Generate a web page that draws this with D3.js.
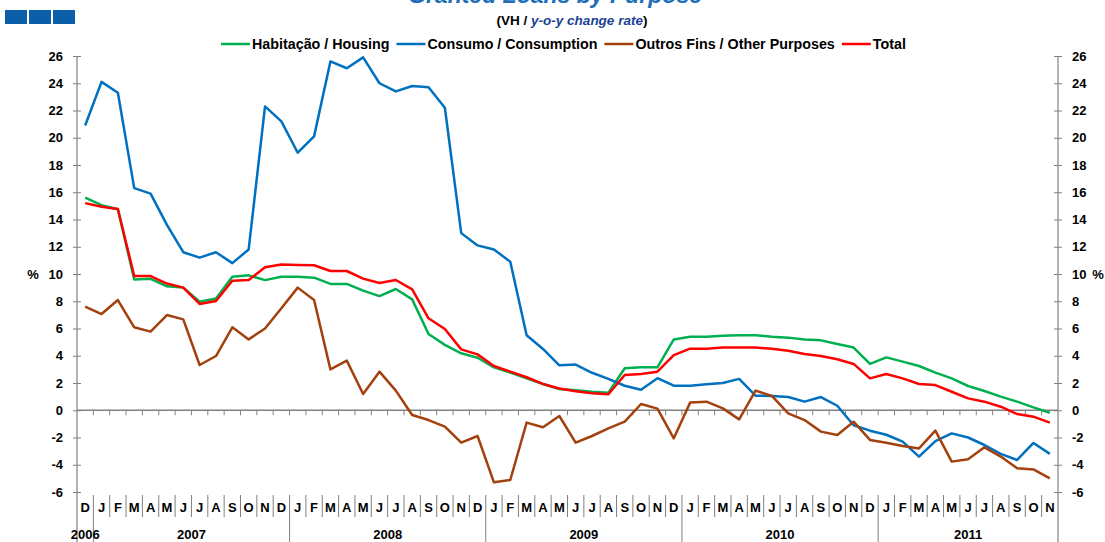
<!DOCTYPE html>
<html>
<head>
<meta charset="utf-8">
<script src="https://cdn.jsdelivr.net/npm/d3@7"></script>
<style>
  body { margin: 0; background: #fff; }
  svg { display: block; font-family: "Liberation Sans", Arial, sans-serif; }
</style>
</head>
<body>
<script>
// month codes, Dec 2006 .. Nov 2011
var months = ["D",
  "J","F","M","A","M","J","J","A","S","O","N","D",
  "J","F","M","A","M","J","J","A","S","O","N","D",
  "J","F","M","A","M","J","J","A","S","O","N","D",
  "J","F","M","A","M","J","J","A","S","O","N","D",
  "J","F","M","A","M","J","J","A","S","O","N"];
var years = ["2006","2007","2008","2009","2010","2011"];
var yearCounts = [1, 12, 12, 12, 12, 11];
var yTicks = [-6,-4,-2,0,2,4,6,8,10,12,14,16,18,20,22,24,26];

var housing = [15.6,15.05,14.75,9.6,9.65,9.1,9.0,7.97,8.2,9.8,9.9,9.55,
  9.8,9.8,9.73,9.27,9.27,8.78,8.38,8.9,8.14,5.6,4.8,4.18,
  3.85,3.15,2.76,2.34,1.93,1.56,1.46,1.36,1.29,3.08,3.15,3.15,
  5.2,5.4,5.4,5.47,5.5,5.5,5.4,5.33,5.2,5.13,4.86,4.6,
  3.4,3.88,3.57,3.25,2.76,2.34,1.78,1.41,1.0,0.63,0.21,-0.18];
var consumption = [20.9,24.1,23.3,16.3,15.9,13.6,11.6,11.2,11.6,10.8,11.8,22.3,
  21.2,18.9,20.1,25.6,25.1,25.9,24.0,23.4,23.8,23.7,22.2,13.0,
  12.1,11.8,10.9,5.5,4.5,3.3,3.35,2.75,2.3,1.8,1.5,2.35,
  1.8,1.8,1.9,2.0,2.3,1.07,1.05,0.97,0.63,0.97,0.33,-1.1,
  -1.5,-1.8,-2.3,-3.4,-2.26,-1.7,-2.0,-2.55,-3.2,-3.65,-2.4,-3.2];
var other = [7.6,7.06,8.09,6.09,5.77,6.99,6.67,3.32,3.98,6.09,5.2,6.0,
  7.48,9.0,8.09,3.0,3.64,1.19,2.83,1.44,-0.35,-0.72,-1.2,-2.38,
  -1.89,-5.29,-5.12,-0.91,-1.25,-0.42,-2.38,-1.89,-1.33,-0.84,0.46,0.12,
  -2.06,0.56,0.63,0.14,-0.67,1.44,1.05,-0.23,-0.72,-1.57,-1.82,-0.84,
  -2.18,-2.38,-2.62,-2.8,-1.5,-3.77,-3.6,-2.72,-3.4,-4.26,-4.34,-5.0];
var total = [15.2,14.94,14.77,9.85,9.85,9.3,9.0,7.8,8.02,9.5,9.56,10.49,
  10.7,10.66,10.64,10.22,10.22,9.66,9.34,9.56,8.87,6.75,5.96,4.47,
  4.1,3.25,2.83,2.42,1.93,1.6,1.39,1.24,1.17,2.59,2.66,2.83,
  4.05,4.52,4.52,4.6,4.6,4.6,4.52,4.37,4.13,3.98,3.74,3.4,
  2.34,2.66,2.34,1.93,1.85,1.36,0.87,0.63,0.26,-0.28,-0.47,-0.91];

var seriesNames = ["Habitação / Housing", "Consumo / Consumption", "Outros Fins / Other Purposes", "Total"];
var seriesColors = ["#00b050", "#0070c0", "#a3410e", "#ff0000"];
var seriesValues = [housing, consumption, other, total];

var width = 1105, height = 542;
var plotLeft = 77, plotRight = 1058, plotTop = 56, plotBottom = 492;

var svg = d3.select("body").append("svg")
  .attr("width", width)
  .attr("height", height);

var x = d3.scaleBand()
  .domain(d3.range(months.length))
  .range([plotLeft, plotRight])
  .padding(0);
var y = d3.scaleLinear()
  .domain([-6, 26])
  .range([plotBottom, plotTop]);

var axisColor = "#808080";

// corner squares
svg.append("g").selectAll("rect")
  .data([0, 1, 2])
  .enter().append("rect")
  .attr("x", function(d) { return 5 + d * 24; })
  .attr("y", 10)
  .attr("width", 22)
  .attr("height", 14)
  .attr("fill", "#0b5ea8");

// title (cut off at top in the original)
svg.append("text")
  .attr("x", 555).attr("y", 3)
  .attr("text-anchor", "middle")
  .attr("font-size", 23).attr("font-weight", "bold").attr("font-style", "italic")
  .attr("fill", "#1f6fb8")
  .text("Granted Loans by Purpose");

var sub = svg.append("text")
  .attr("x", 572).attr("y", 25)
  .attr("text-anchor", "middle")
  .attr("font-size", 13.5).attr("font-weight", "bold");
sub.append("tspan").text("(VH / ");
sub.append("tspan").attr("font-style", "italic").attr("fill", "#1c3f94").text("y-o-y change rate");
sub.append("tspan").text(")");

// legend
var legend = svg.append("g");
var lx = 221;
seriesNames.forEach(function(name, i) {
  legend.append("line")
    .attr("x1", lx).attr("x2", lx + 29)
    .attr("y1", 44).attr("y2", 44)
    .attr("stroke", seriesColors[i]).attr("stroke-width", 2.5);
  var t = legend.append("text")
    .attr("x", lx + 31).attr("y", 49)
    .attr("font-size", 14.3).attr("font-weight", "bold")
    .text(name);
  lx += 31 + t.node().getComputedTextLength() + 7;
});

// y axes
var fmt = function(d) { return String(d); };
var yLeft = svg.append("g")
  .attr("transform", "translate(" + plotLeft + ",0)")
  .call(d3.axisLeft(y).tickValues(yTicks).tickFormat(fmt).tickSize(4).tickPadding(10));
var yRight = svg.append("g")
  .attr("transform", "translate(" + plotRight + ",0)")
  .call(d3.axisRight(y).tickValues(yTicks).tickFormat(fmt).tickSize(4).tickPadding(10));
[yLeft, yRight].forEach(function(g) {
  g.select(".domain").remove();
  g.selectAll(".tick line").attr("x1", -4).attr("x2", 4).attr("stroke", axisColor);
  g.selectAll(".tick text")
    .attr("font-size", 13).attr("font-weight", "bold")
    .attr("font-family", "Liberation Sans, Arial, sans-serif").attr("fill", "#000");
});

svg.append("text").attr("x", 33).attr("y", y(10) + 5)
  .attr("text-anchor", "middle").attr("font-size", 13).attr("font-weight", "bold").text("%");
svg.append("text").attr("x", 1098).attr("y", y(10) + 5)
  .attr("text-anchor", "middle").attr("font-size", 13).attr("font-weight", "bold").text("%");

// vertical axis lines
svg.append("line").attr("x1", plotLeft).attr("x2", plotLeft).attr("y1", plotTop).attr("y2", 542)
  .attr("stroke", axisColor).attr("stroke-width", 1.2);
svg.append("line").attr("x1", plotRight).attr("x2", plotRight).attr("y1", plotTop).attr("y2", 542)
  .attr("stroke", axisColor).attr("stroke-width", 1.2);

// zero line with month ticks
svg.append("line").attr("x1", plotLeft).attr("x2", plotRight).attr("y1", y(0)).attr("y2", y(0))
  .attr("stroke", axisColor).attr("stroke-width", 1.5);
var boundaries = d3.range(1, months.length);
svg.append("g").selectAll("line")
  .data(boundaries)
  .enter().append("line")
  .attr("x1", function(d) { return x(d); })
  .attr("x2", function(d) { return x(d); })
  .attr("y1", y(0)).attr("y2", y(0) + 5)
  .attr("stroke", axisColor);

// category labels below the plot
var yearStarts = [];
var acc = 0;
yearCounts.forEach(function(n) { yearStarts.push(acc); acc += n; });

svg.append("g").selectAll("line")
  .data(boundaries)
  .enter().append("line")
  .attr("x1", function(d) { return x(d); })
  .attr("x2", function(d) { return x(d); })
  .attr("y1", 495)
  .attr("y2", function(d) { return yearStarts.indexOf(d) >= 0 ? 542 : 517; })
  .attr("stroke", axisColor);

svg.append("g").selectAll("text")
  .data(months)
  .enter().append("text")
  .attr("x", function(d, i) { return x(i) + x.bandwidth() / 2; })
  .attr("y", 512)
  .attr("text-anchor", "middle")
  .attr("font-size", 13).attr("font-weight", "bold")
  .text(function(d) { return d; });

svg.append("g").selectAll("text")
  .data(years)
  .enter().append("text")
  .attr("x", function(d, i) {
    var s = yearStarts[i], n = yearCounts[i];
    return (x(s) + x(s + n - 1) + x.bandwidth()) / 2;
  })
  .attr("y", 539)
  .attr("text-anchor", "middle")
  .attr("font-size", 13).attr("font-weight", "bold")
  .text(function(d) { return d; });

// series lines
var line = d3.line()
  .x(function(d, i) { return x(i) + x.bandwidth() / 2; })
  .y(function(d) { return y(d); });

svg.append("g").selectAll("path")
  .data(seriesValues)
  .enter().append("path")
  .attr("d", line)
  .attr("fill", "none")
  .attr("stroke", function(d, i) { return seriesColors[i]; })
  .attr("stroke-width", 2.5)
  .attr("stroke-linejoin", "round");
</script>
</body>
</html>
